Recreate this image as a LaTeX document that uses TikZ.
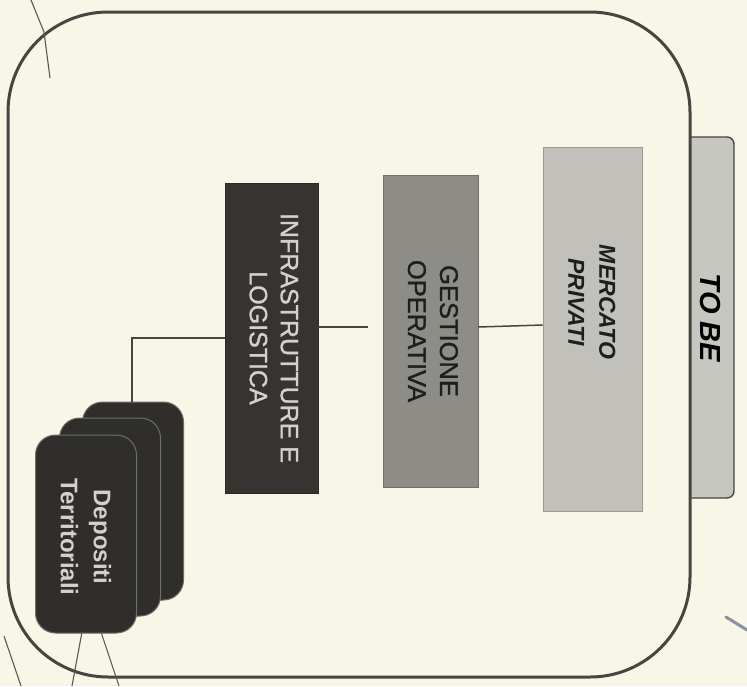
\documentclass[tikz,border=0pt]{standalone}
\usepackage{fontspec}
\setmainfont{Liberation Sans}
\newfontfamily\semibold[FakeBold=1.2]{Liberation Sans}
\definecolor{bg}{HTML}{F8F6E6}
\definecolor{frame}{HTML}{46453F}
\definecolor{infrafill}{HTML}{353431}
\definecolor{gestfill}{HTML}{8D8C87}
\definecolor{mercfill}{HTML}{C1C0BA}
\definecolor{tabfill}{HTML}{C7C7C1}
\definecolor{depofill}{HTML}{2F2E2B}
\definecolor{lighttext}{HTML}{D2D1CA}
\definecolor{darktext}{HTML}{1E1E1C}
\definecolor{stray}{HTML}{5A5A55}
\definecolor{bluemark}{HTML}{8A90A6}
\tikzset{
  boxshape/.style={rectangle, inner sep=0pt, draw=#1!80!black, line width=0.8pt},
  card/.style={rectangle, rounded corners=20pt, inner sep=0pt, minimum width=101pt, minimum height=198pt, fill=depofill, draw=#1, line width=1pt},
  conn/.style={draw=frame, line width=1.5pt},
  straystyle/.style={draw=stray, line width=1.1pt},
  rtext/.style={inner sep=0pt, align=center}
}
\begin{document}
\begin{tikzpicture}[x=1pt, y=-1pt]
\useasboundingbox (0,0) rectangle (747,686);
\fill[bg] (0,0) rectangle (747,686);
% TO BE tab
\draw[fill=tabfill, draw=frame, line width=1.4pt, rounded corners=7pt] (690,137) -- (734,137) -- (734,498) -- (690,498);
\node[rtext] (tobe) at (710,318) {\rotatebox{-90}{\fontsize{29}{32}\selectfont\bfseries\itshape TO BE}};
% outer frame
\draw[frame, line width=3pt, rounded corners=100pt] (8,12) rectangle (690,677);
% boxes
\node[boxshape=infrafill, fill=infrafill, minimum width=93pt, minimum height=310pt] (infra) at (271.5,338) {};
\node[boxshape=gestfill, fill=gestfill, minimum width=95pt, minimum height=312pt] (gest) at (430.5,331) {};
\node[boxshape=mercfill, fill=mercfill, minimum width=99pt, minimum height=364pt] (merc) at (592.5,329) {};
\node[rtext, text=lighttext] (infratext) at (infra.center) {\rotatebox{-90}{\semibold\fontsize{25}{31}\selectfont\begin{tabular}{@{}c@{}}INFRASTRUTTURE E\\LOGISTICA\end{tabular}}};
\node[rtext, text=darktext] (gesttext) at (gest.center) {\rotatebox{-90}{\semibold\fontsize{25.5}{32}\selectfont\begin{tabular}{@{}c@{}}GESTIONE\\OPERATIVA\end{tabular}}};
\node[rtext, text=darktext] (merctext) at (590,302) {\rotatebox{-90}{\fontsize{23}{31}\selectfont\bfseries\itshape\begin{tabular}{@{}c@{}}MERCATO\\PRIVATI\end{tabular}}};
% Depositi stack
\node[card=depofill!70!white] (depo3) at (133,501) {};
\node[card=depofill!70!white] (depo2) at (110,517) {};
\node[card=depofill!70!white] (depo1) at (86,534) {};
\node[rtext, text=lighttext] (depotext) at (84,537) {\rotatebox{-90}{\fontsize{24}{33}\selectfont\bfseries\begin{tabular}{@{}c@{}}Depositi\\Territoriali\end{tabular}}};
% connectors
\coordinate (bend) at (132,338);
\coordinate (gap) at (368,327);
\draw[conn] (infra.west |- bend) -- (bend) -- (bend |- depo3.north);
\draw[conn] (infra.east |- gap) -- (gap);
\draw[conn] (gest.east |- 0,327) -- (merc.west |- 0,325);
% stray marks
\coordinate (s1a) at (31,0); \coordinate (s1b) at (44,32); \coordinate (s1c) at (50,78);
\draw[straystyle] (s1a) -- (s1b) -- (s1c);
\coordinate (s2a) at (4,636); \coordinate (s2b) at (21,686);
\draw[straystyle] (s2a) -- (s2b);
\coordinate (s3a) at (82,632); \coordinate (s3b) at (72,686);
\draw[straystyle] (s3a) -- (s3b);
\coordinate (s4a) at (101,632); \coordinate (s4b) at (119,686);
\draw[straystyle] (s4a) -- (s4b);
\coordinate (s5a) at (726,617); \coordinate (s5b) at (747,630);
\draw[draw=bluemark, line width=3pt, line cap=round] (s5a) -- (s5b);
\end{tikzpicture}
\end{document}
